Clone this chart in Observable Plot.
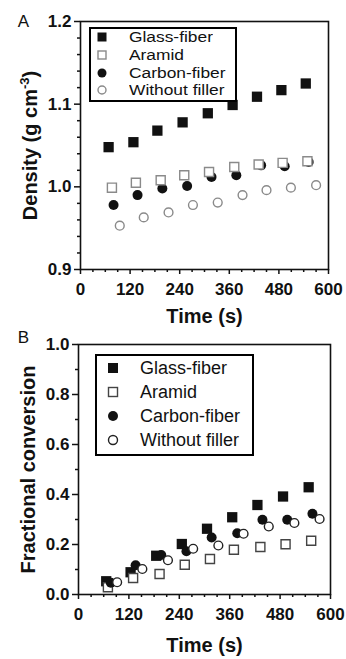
<!DOCTYPE html>
<html><head><meta charset="utf-8">
<script src="https://cdn.jsdelivr.net/npm/d3@7"></script>
<script src="https://cdn.jsdelivr.net/npm/@observablehq/plot@0.6"></script>
<style>
body{margin:0;background:#fff;}
#root{position:relative;width:346px;height:659px;font-family:"Liberation Sans",Arial,sans-serif;overflow:hidden;}
#root svg{display:block;}
.legend{position:absolute;border:2.5px solid #000;background:#fff;box-sizing:border-box;}
.legend .row{position:absolute;left:0;right:0;height:20px;}
.legend .row svg{position:absolute;top:0;}
.legend .row span{position:absolute;top:0;line-height:20px;color:#111;white-space:nowrap;transform-origin:left center;}
</style></head><body><div id="root"></div>
<script>
// ---------- data ----------
const seriesNames = ["Glass-fiber", "Aramid", "Carbon-fiber", "Without filler"];
const xTicks = [0, 120, 240, 360, 480, 600];
const xMinor = [30, 60, 90, 150, 180, 210, 270, 300, 330, 390, 420, 450, 510, 540, 570];

// Panel A: density (g cm-3) vs time (s)
const yTicksA = [0.9, 1.0, 1.1, 1.2];
const yMinorA = [0.92, 0.94, 0.96, 0.98, 1.02, 1.04, 1.06, 1.08, 1.12, 1.14, 1.16, 1.18];
const tA_glass   = [68, 128, 186, 247, 308, 368, 427, 486, 545];
const dA_glass   = [1.048, 1.054, 1.068, 1.078, 1.089, 1.099, 1.109, 1.117, 1.125];
const tA_aramid  = [76, 134, 194, 251, 311, 372, 431, 489, 549];
const dA_aramid  = [0.999, 1.005, 1.008, 1.014, 1.018, 1.024, 1.027, 1.029, 1.031];
const tA_carbon  = [80, 138, 198, 258, 317, 377, 437, 494, 552];
const dA_carbon  = [0.978, 0.990, 0.998, 1.001, 1.012, 1.014, 1.026, 1.025, 1.030];
const tA_without = [95, 153, 213, 272, 332, 392, 450, 509, 570];
const dA_without = [0.953, 0.963, 0.969, 0.978, 0.981, 0.990, 0.996, 0.999, 1.002];

// Panel B: fractional conversion vs time (s)
const yTicksB = [0, 0.2, 0.4, 0.6, 0.8, 1.0];
const yMinorB = [0.1, 0.3, 0.5, 0.7, 0.9];
const tB_glass   = [66, 124, 185, 246, 306, 366, 426, 487, 548];
const fB_glass   = [0.053, 0.089, 0.155, 0.202, 0.263, 0.309, 0.358, 0.392, 0.429];
const tB_aramid  = [70, 130, 193, 253, 313, 370, 433, 493, 554];
const fB_aramid  = [0.029, 0.066, 0.082, 0.119, 0.142, 0.179, 0.190, 0.201, 0.215];
const tB_carbon  = [77, 136, 197, 257, 317, 378, 438, 497, 557];
const fB_carbon  = [0.047, 0.117, 0.158, 0.173, 0.228, 0.245, 0.299, 0.299, 0.323];
const tB_without = [92, 152, 213, 273, 333, 393, 453, 514, 574];
const fB_without = [0.049, 0.102, 0.137, 0.183, 0.196, 0.243, 0.272, 0.286, 0.302];

// ---------- helpers ----------
const FONT = '"Liberation Sans", Arial, sans-serif';
const zip = (ts, vs) => ts.map((t, i) => ({t, v: vs[i]}));

const stylesA = [
  {symbol: "square", fill: "#111", stroke: "none", r: 5.8, sw: 0},
  {symbol: "square", fill: "white", stroke: "#8a8a8a", r: 5.1, sw: 1.4},
  {symbol: "circle", fill: "#111", stroke: "none", r: 5, sw: 0},
  {symbol: "circle", fill: "white", stroke: "#8a8a8a", r: 4.4, sw: 1.4}
];
const stylesB = [
  {symbol: "square", fill: "#111", stroke: "none", r: 5.8, sw: 0},
  {symbol: "square", fill: "white", stroke: "#444", r: 5.1, sw: 1.4},
  {symbol: "circle", fill: "#111", stroke: "none", r: 5, sw: 0},
  {symbol: "circle", fill: "white", stroke: "#222", r: 4.4, sw: 1.4}
];

function dots(data, s) {
  return Plot.dot(data, {x: "t", y: "v", symbol: s.symbol, r: s.r, fill: s.fill, stroke: s.stroke, strokeWidth: s.sw});
}

function panel({height, mt, mb, ml, mr, yDomain, yTicks, yMinor, series, styles, order, yLabel, letter, letterDx, letterDy, xLabelDy}) {
  return Plot.plot({
    width: 346, height,
    marginTop: mt, marginBottom: mb, marginLeft: ml, marginRight: mr,
    style: {fontFamily: FONT, background: "white", overflow: "visible", color: "#111"},
    x: {domain: [0, 600]},
    y: {domain: yDomain},
    marks: [
      ...order.map(i => dots(series[i], styles[i])),
      Plot.frame({stroke: "#111", strokeWidth: 1.6}),
      Plot.axisX({ticks: xTicks, tickSize: 5, tickPadding: 8, fontSize: 17, fontWeight: "bold", label: null, strokeWidth: 1.5, tickFormat: d => String(d)}),
      Plot.axisX({ticks: xMinor, tickSize: 3, tickFormat: () => "", label: null, strokeWidth: 1.5}),
      Plot.axisY({ticks: yTicks, tickSize: 6, tickPadding: 3, fontSize: 17, fontWeight: "bold", label: null, strokeWidth: 1.5, tickFormat: ".1f"}),
      Plot.axisY({ticks: yMinor, tickSize: 3, tickFormat: () => "", label: null, strokeWidth: 1.5}),
      Plot.text(["Time (s)"], {frameAnchor: "bottom", dy: xLabelDy, lineAnchor: "bottom", textAnchor: "middle", fontSize: 20, fontWeight: "bold", text: d => d, fill: "#111"}),
      Plot.text([yLabel], {frameAnchor: "left", dx: -44, rotate: -90, lineAnchor: "bottom", textAnchor: "middle", fontSize: 20, fontWeight: "bold", text: d => d, fill: "#111"}),
      Plot.text([letter], {frameAnchor: "top-left", dx: letterDx, dy: letterDy, lineAnchor: "middle", textAnchor: "middle", fontSize: 17, text: d => d, fill: "#111"})
    ]
  });
}

const root = document.getElementById("root");

const svgA = panel({
  height: 330, mt: 21, mb: 61, ml: 80, mr: 18,
  yDomain: [0.9, 1.2], yTicks: yTicksA, yMinor: yMinorA,
  series: [zip(tA_glass, dA_glass), zip(tA_aramid, dA_aramid), zip(tA_carbon, dA_carbon), zip(tA_without, dA_without)],
  styles: stylesA, order: [3, 2, 1, 0],
  yLabel: "Density (g cm-3)", letter: "A", letterDx: -57, letterDy: 0, xLabelDy: 53
});
const svgB = panel({
  height: 329, mt: 14, mb: 65, ml: 78, mr: 16,
  yDomain: [0, 1.0], yTicks: yTicksB, yMinor: yMinorB,
  series: [zip(tB_glass, fB_glass), zip(tB_aramid, fB_aramid), zip(tB_carbon, fB_carbon), zip(tB_without, fB_without)],
  styles: stylesB, order: [0, 1, 2, 3],
  yLabel: "Fractional conversion", letter: "B", letterDx: -55, letterDy: -7, xLabelDy: 57
});
root.appendChild(svgA);
root.appendChild(svgB);

// superscript for cm-3
svgA.querySelectorAll("text").forEach(el => {
  if (el.textContent === "Density (g cm-3)") {
    el.textContent = "";
    const ns = "http://www.w3.org/2000/svg";
    const a = document.createElementNS(ns, "tspan"); a.textContent = "Density (g cm";
    const b = document.createElementNS(ns, "tspan"); b.textContent = "-3"; b.setAttribute("font-size", "13"); b.setAttribute("dy", "-8");
    const c = document.createElementNS(ns, "tspan"); c.textContent = ")"; c.setAttribute("dy", "8");
    el.append(a, b, c);
  }
});

// ---------- legends ----------
function markerSvg(s, size) {
  const n = 14, c = n / 2;
  let shape;
  if (s.symbol === "square") {
    const h = size / 2;
    shape = `<rect x="${c - h}" y="${c - h}" width="${size}" height="${size}" fill="${s.fill}" stroke="${s.stroke}" stroke-width="${s.sw}"/>`;
  } else {
    shape = `<circle cx="${c}" cy="${c}" r="${size / 2}" fill="${s.fill}" stroke="${s.stroke}" stroke-width="${s.sw}"/>`;
  }
  return `<svg width="${n}" height="${n}" viewBox="0 0 ${n} ${n}">${shape}</svg>`;
}
function legend({left, top, width, height, rowCenters, markerX, textX, styles, sizes, fontSize, stretch}) {
  const box = document.createElement("div");
  box.className = "legend";
  Object.assign(box.style, {left: left + "px", top: top + "px", width: width + "px", height: height + "px"});
  seriesNames.forEach((name, i) => {
    const row = document.createElement("div");
    row.className = "row";
    row.style.top = (rowCenters[i] - 10) + "px";
    row.innerHTML = markerSvg(styles[i], sizes[i]).replace("<svg ", `<svg style="left:${markerX - 7}px;top:3px" `) +
      `<span style="left:${textX}px;font-size:${fontSize}px;transform:scaleX(${stretch})">${name}</span>`;
    box.appendChild(row);
  });
  root.appendChild(box);
}
// offsets are relative to the inside of the 2.5px border
legend({left: 89, top: 27, width: 148, height: 75, rowCenters: [8, 26, 44, 61], markerX: 11, textX: 38,
  styles: stylesA, sizes: [9, 8, 9, 8], fontSize: 15.5, stretch: 1.12});
legend({left: 95, top: 354, width: 159, height: 102, rowCenters: [12, 36, 60, 84], markerX: 16, textX: 43,
  styles: stylesB, sizes: [10, 9, 10, 9], fontSize: 18, stretch: 1});
</script>
</body></html>
